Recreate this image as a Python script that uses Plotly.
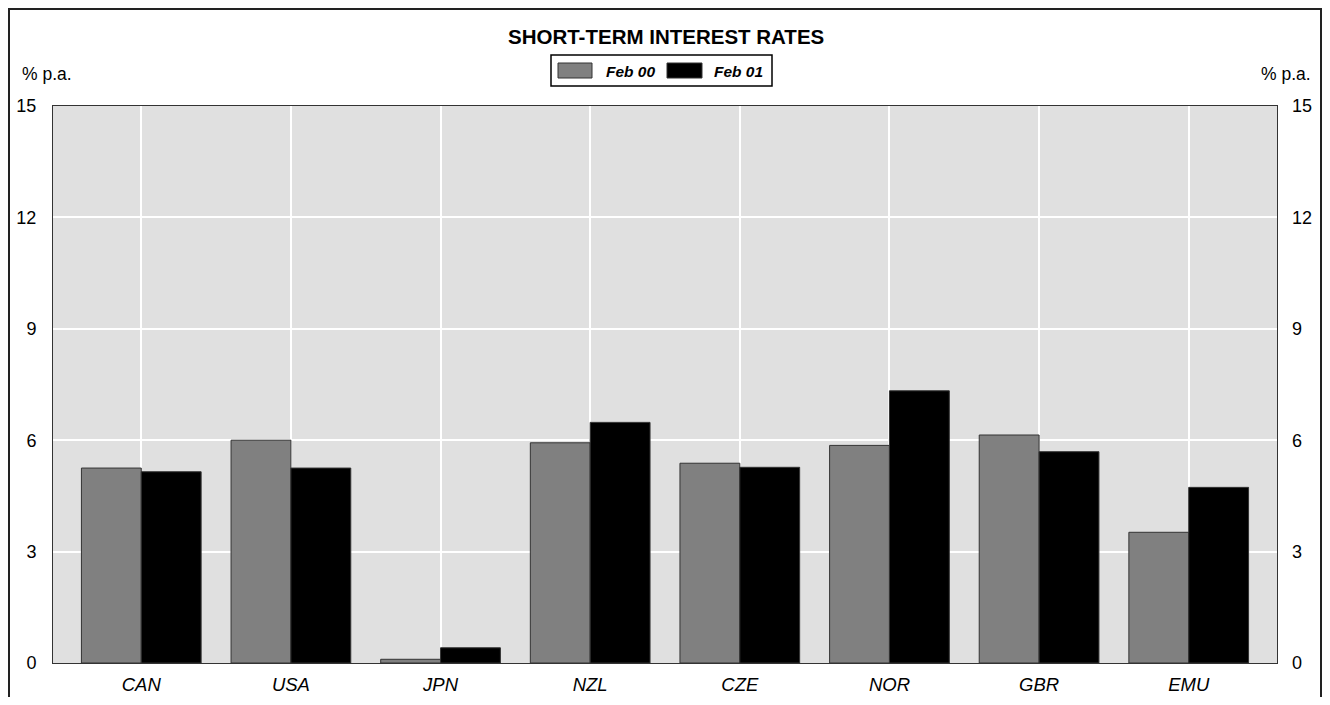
import plotly.graph_objects as go

countries = ["CAN", "USA", "JPN", "NZL", "CZE", "NOR", "GBR", "EMU"]
feb00 = [5.25, 6.00, 0.10, 5.93, 5.38, 5.86, 6.14, 3.52]
feb01 = [5.15, 5.25, 0.41, 6.48, 5.27, 7.33, 5.69, 4.73]
series_names = ["Feb 00", "Feb 01"]
y_ticks = [0, 3, 6, 9, 12, 15]

font_main = "Liberation Sans, Arial, sans-serif"

fig = go.Figure()
fig.add_trace(go.Bar(x=countries, y=feb00, name=series_names[0],
                     marker=dict(color="#808080", line=dict(color="#333333", width=1))))
fig.add_trace(go.Bar(x=countries, y=feb01, name=series_names[1],
                     marker=dict(color="#000000", line=dict(color="#333333", width=1))))
# empty trace so the right hand axis gets drawn
fig.add_trace(go.Scatter(x=[], y=[], yaxis="y2", showlegend=False, hoverinfo="skip"))

# figure sits inside the page's 8px body margin, so keep it small enough not to overflow
fig.update_layout(
    width=1314, height=689,
    margin=dict(l=45, r=45, t=98, b=34),
    paper_bgcolor="white",
    plot_bgcolor="#e0e0e0",
    barmode="group", bargap=0.2, bargroupgap=0,
    showlegend=False,
    font=dict(family=font_main, color="black", size=18),
    xaxis=dict(range=[-0.59, 7.59], showgrid=True, gridcolor="white", gridwidth=1.5,
               showline=True, linecolor="#333333", linewidth=1, mirror=True, automargin=False,
               ticks="", tickfont=dict(size=18.5, style="italic"), ticklabelstandoff=5),
    yaxis=dict(range=[0, 15], tickvals=y_ticks, showgrid=True, gridcolor="white", gridwidth=1.5,
               showline=True, linecolor="#333333", linewidth=1, mirror=True, zeroline=False,
               automargin=False, ticks="", tickfont=dict(size=18), ticklabelstandoff=12),
    yaxis2=dict(range=[0, 15], tickvals=y_ticks, overlaying="y", side="right", showgrid=False,
                zeroline=False, automargin=False, ticks="", tickfont=dict(size=18),
                ticklabelstandoff=14),
)


# page pixel -> paper coordinates
def px(v):
    return (v - 53) / 1224


def py(v):
    return (663 - v) / 557


# title and unit labels
fig.add_annotation(text="<b>SHORT-TERM INTEREST RATES</b>", xref="paper", yref="paper",
                   x=px(666), y=py(37), yanchor="middle", showarrow=False, font=dict(size=20.5))
fig.add_annotation(text="% p.a.", xref="paper", yref="paper", x=px(20), y=py(74),
                   xanchor="left", yanchor="middle", showarrow=False, font=dict(size=17.5))
fig.add_annotation(text="% p.a.", xref="paper", yref="paper", x=px(1313), y=py(74),
                   xanchor="right", yanchor="middle", showarrow=False, font=dict(size=17.5))

# hand-drawn legend
fig.add_shape(type="rect", xref="paper", yref="paper", x0=px(551), x1=px(772), y0=py(86), y1=py(55),
              line=dict(color="black", width=1.5), fillcolor="white", layer="above")
swatches = [(558, 592, "#808080", 604), (667, 702, "#000000", 712)]
for (a, b, col, tx), name in zip(swatches, series_names):
    fig.add_shape(type="rect", xref="paper", yref="paper", x0=px(a), x1=px(b), y0=py(78), y1=py(63),
                  line=dict(color="#333333", width=1), fillcolor=col, layer="above")
    fig.add_annotation(text="<b><i>" + name + "</i></b>", xref="paper", yref="paper",
                       x=px(tx), y=py(71), xanchor="left", yanchor="middle", showarrow=False,
                       font=dict(size=15.5))

# outer frame
fig.add_shape(type="rect", xref="paper", yref="paper", x0=px(9), x1=px(1321), y0=-0.3, y1=py(9),
              line=dict(color="#222222", width=2), layer="above")

fig.write_html("out.html")
